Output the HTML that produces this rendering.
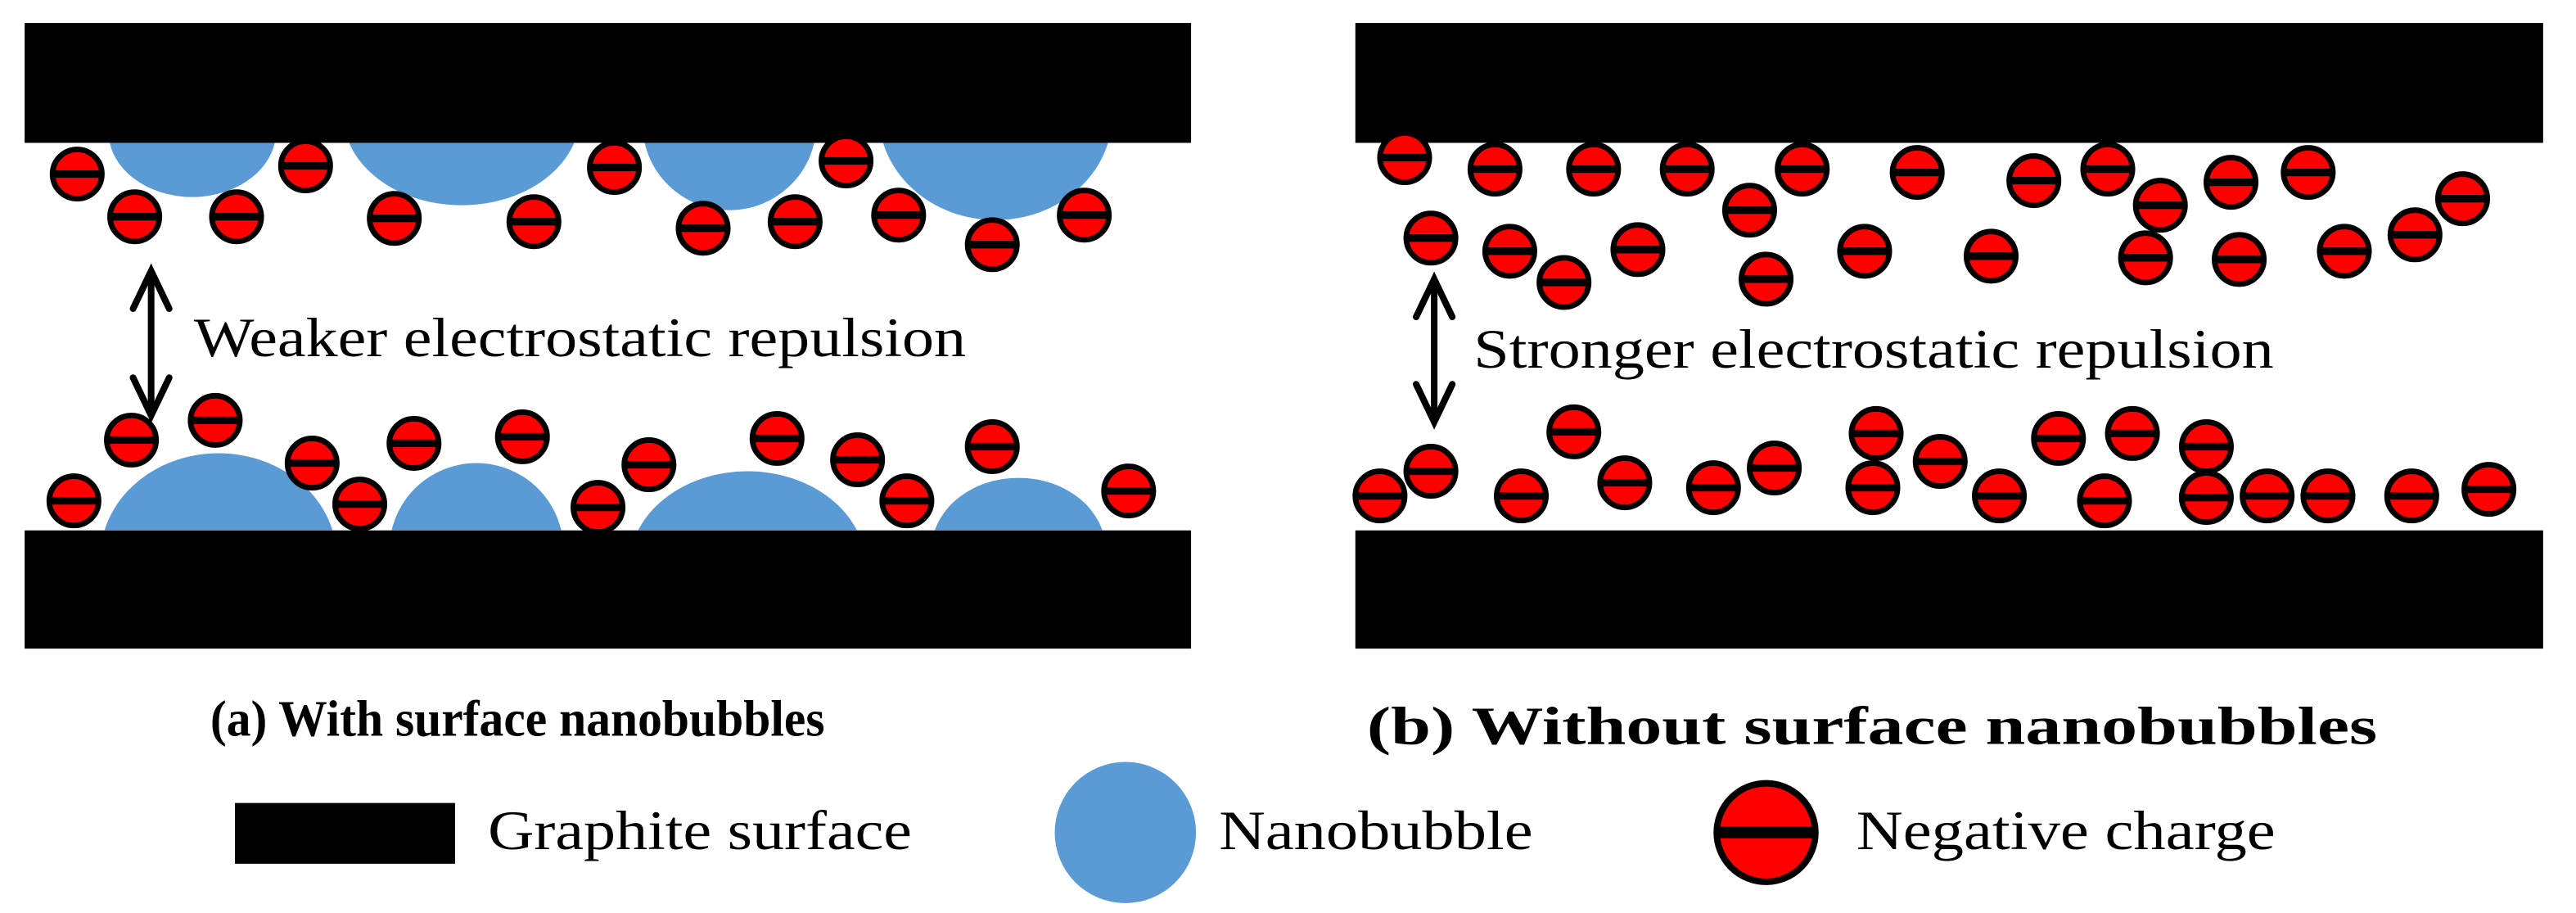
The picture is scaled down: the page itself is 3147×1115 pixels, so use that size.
<!DOCTYPE html>
<html><head><meta charset="utf-8"><style>html,body{margin:0;padding:0;background:#fff;}svg{display:block}</style></head>
<body>
<svg width="3147" height="1115" viewBox="0 0 1568 556" preserveAspectRatio="none" xmlns="http://www.w3.org/2000/svg">
<defs>
<g id="c"><circle r="15" fill="#ff0000" stroke="#000" stroke-width="3.4"/><rect x="-14.5" y="-2.3" width="29" height="4.6" fill="#000"/></g>
</defs>
<rect width="1568" height="556" fill="#fff"/>
<rect x="15" y="14" width="710" height="73" fill="#000"/>
<rect x="15" y="323" width="710" height="72" fill="#000"/>
<rect x="825" y="14" width="723" height="73" fill="#000"/>
<rect x="825" y="323" width="723" height="72" fill="#000"/>
<g fill="#5b9bd5">
<clipPath id="tc"><rect x="0" y="87" width="740" height="100"/></clipPath>
<g clip-path="url(#tc)">
<ellipse cx="117" cy="80" rx="51" ry="40"/>
<ellipse cx="281" cy="70" rx="72" ry="55"/>
<ellipse cx="444" cy="75" rx="53" ry="53"/>
<ellipse cx="606" cy="70" rx="71" ry="64"/>
</g>
<clipPath id="bc"><rect x="0" y="200" width="740" height="123"/></clipPath>
<g clip-path="url(#bc)">
<ellipse cx="133" cy="340" rx="72" ry="64"/>
<ellipse cx="290" cy="335" rx="53" ry="53"/>
<ellipse cx="455" cy="345" rx="72" ry="58"/>
<ellipse cx="620" cy="335" rx="53" ry="44"/>
</g>
</g>
<g>
<use href="#c" x="47" y="106"/><use href="#c" x="82" y="132"/><use href="#c" x="144" y="132"/><use href="#c" x="186" y="101"/><use href="#c" x="240" y="133"/><use href="#c" x="325" y="135"/><use href="#c" x="374" y="102"/><use href="#c" x="428" y="139"/><use href="#c" x="484" y="135"/><use href="#c" x="515" y="98"/><use href="#c" x="547" y="131"/><use href="#c" x="604" y="149"/><use href="#c" x="660" y="131"/>
<use href="#c" x="45" y="305"/><use href="#c" x="80" y="268"/><use href="#c" x="131" y="256"/><use href="#c" x="190" y="282"/><use href="#c" x="219" y="307"/><use href="#c" x="252" y="270"/><use href="#c" x="318" y="266"/><use href="#c" x="364" y="309"/><use href="#c" x="395" y="283"/><use href="#c" x="473" y="267"/><use href="#c" x="522" y="280"/><use href="#c" x="552" y="305"/><use href="#c" x="604" y="272"/><use href="#c" x="687" y="299"/>
<use href="#c" x="855" y="96"/><use href="#c" x="910" y="103"/><use href="#c" x="970" y="103"/><use href="#c" x="1027" y="103"/><use href="#c" x="1097" y="103"/><use href="#c" x="1167" y="105"/><use href="#c" x="1238" y="110"/><use href="#c" x="1283" y="103"/><use href="#c" x="1315" y="125"/><use href="#c" x="1358" y="111"/><use href="#c" x="1405" y="105"/><use href="#c" x="1499" y="121"/><use href="#c" x="1470" y="143"/><use href="#c" x="1427" y="153"/><use href="#c" x="1363" y="158"/><use href="#c" x="1306" y="157"/><use href="#c" x="1212" y="156"/><use href="#c" x="1135" y="153"/><use href="#c" x="1075" y="170"/><use href="#c" x="1065" y="128"/><use href="#c" x="997" y="152"/><use href="#c" x="952" y="172"/><use href="#c" x="919" y="153"/><use href="#c" x="871" y="145"/>
<use href="#c" x="840" y="302"/><use href="#c" x="871" y="287"/><use href="#c" x="958" y="263"/><use href="#c" x="926" y="302"/><use href="#c" x="989" y="294"/><use href="#c" x="1043" y="297"/><use href="#c" x="1080" y="285"/><use href="#c" x="1142" y="264"/><use href="#c" x="1140" y="297"/><use href="#c" x="1181" y="281"/><use href="#c" x="1217" y="302"/><use href="#c" x="1253" y="267"/><use href="#c" x="1298" y="264"/><use href="#c" x="1281" y="305"/><use href="#c" x="1343" y="272"/><use href="#c" x="1343" y="303"/><use href="#c" x="1380" y="302"/><use href="#c" x="1417" y="302"/><use href="#c" x="1468" y="302"/><use href="#c" x="1515" y="298"/>
</g>
<g stroke="#000" stroke-width="4" fill="none" stroke-linecap="round">
<line x1="92" y1="167" x2="92" y2="251"/>
<polyline points="81,188 92,165 103,188"/><polyline points="81,230 92,253 103,230"/>
<line x1="873" y1="172" x2="873" y2="255"/>
<polyline points="862,193 873,170 884,193"/><polyline points="862,234 873,257 884,234"/>
</g>
<g font-family="'Liberation Serif', serif" fill="#000">
<text x="118" y="217" font-size="34" textLength="470" lengthAdjust="spacingAndGlyphs">Weaker electrostatic repulsion</text>
<text x="897" y="224" font-size="34" textLength="487" lengthAdjust="spacingAndGlyphs">Stronger electrostatic repulsion</text>
<text x="128" y="448" font-size="31" font-weight="bold" textLength="374" lengthAdjust="spacingAndGlyphs">(a) With surface nanobubbles</text>
<text x="832" y="453" font-size="33" font-weight="bold" textLength="615" lengthAdjust="spacingAndGlyphs">(b) Without surface nanobubbles</text>
<text x="297" y="517" font-size="34" textLength="258" lengthAdjust="spacingAndGlyphs">Graphite surface</text>
<text x="742" y="517" font-size="34" textLength="191" lengthAdjust="spacingAndGlyphs">Nanobubble</text>
<text x="1130" y="517" font-size="34" textLength="255" lengthAdjust="spacingAndGlyphs">Negative charge</text>
</g>
<rect x="143" y="489" width="134" height="37" fill="#000"/>
<circle cx="685" cy="507" r="43" fill="#5b9bd5"/>
<circle cx="1075" cy="507" r="30" fill="#ff0000" stroke="#000" stroke-width="4"/>
<rect x="1045" y="503.5" width="60" height="7" fill="#000"/>
</svg>
</body></html>
